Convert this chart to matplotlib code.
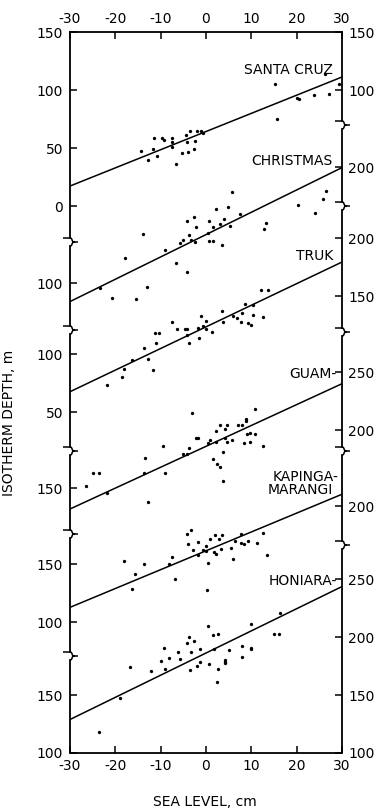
import matplotlib
matplotlib.use("Agg")
import matplotlib.pyplot as plt
from matplotlib.path import Path
from matplotlib.patches import PathPatch

plt.rcParams['font.family'] = ['DejaVu Sans']
plt.rcParams['axes.unicode_minus'] = False

# ---------------- data ----------------
x_ticks = [-30, -20, -10, 0, 10, 20, 30]
x_tick_labels = ["-30", "-20", "-10", "0", "10", "20", "30"]

stations = ["SANTA CRUZ", "CHRISTMAS", "TRUK", "GUAM", "KAPINGA-\nMARANGI", "HONIARA"]

sc_x = [15.2, 26.2, 29.4, 15.6, 20.0, 20.6, 23.8, 27.2, -14.4, -12.7, -11.8, -11.5, -10.7,
        -9.8, -9.3, -7.6, -7.4, -7.6, -6.6, -5.3, -4.5, -4.3, -3.9, -3.5, -2.6, -2.4, -1.9,
        -1.2, -0.6]
sc_y = [105, 113.5, 105, 75, 93, 92, 95.7, 96.3, 47.7, 39.4, 49.1, 58.3, 43.1,
        58.9, 56.9, 58.9, 55.4, 50.6, 36.2, 46.0, 60.9, 55.4, 46.3, 64.9, 48.9, 56.3, 64.4,
        64.4, 63.2]

ch_x = [5.8, 26.4, 25.7, 20.4, 24.0, 13.2, 12.9, 4.9, 7.6, 2.1, 4.0, 3.0, 5.3, 0.7, 1.5,
        0.5, 1.6, 0.7, 3.6, -2.6, -4.3, -2.1, -3.7, -3.2, -2.5, -5.1, -5.7, -9.0, -6.7,
        -4.3, -13.9, -17.8, -13.1, -20.7, -15.4, -23.3]
ch_y = [178.2, 179, 172.7, 167, 160.3, 152, 146.6, 165.8, 159.7, 163.5, 155.2, 150.6,
        148.9, 153.7, 148.3, 142.8, 136.5, 136, 132.5, 157.2, 153.2, 148.3, 141.4, 136.8,
        135.6, 137.1, 134.2, 128.7, 117.2, 109.5, 142, 121.3, 96.6, 87.3, 86, 95.7]

tr_x = [12.1, 13.6, 8.6, 10.4, 3.5, 6.0, 7.9, 6.8, 7.7, 9.3, 9.9, 10.3, 12.5, 3.8, -1.1,
        -0.1, -0.7, -1.7, 0.1, 1.25, -7.4, -6.3, -4.6, -4.1, -4.1, -1.6, -3.7, -11.25,
        -10.4, -11.1, -13.75, -12.7, -16.4, -18.0, -11.8, -18.5, -21.8]
tr_y = [154.9, 154.9, 143.1, 142.5, 137.1, 133, 135.1, 130.8, 127.3, 126.5, 125, 133.6,
        132.2, 127.9, 133, 128.7, 124.4, 122.7, 121.3, 118.7, 127.9, 121.6, 121.9, 121.9,
        116.4, 113.5, 109.2, 117.7, 117.7, 109.2, 105.4, 95.4, 94.8, 87.3, 86, 80, 73]

gu_x = [-3.1, 10.8, 8.8, 8.8, 7.1, 8.0, 3.0, 4.6, 2.1, 4.2, -2.3, -1.7, -9.4, -3.7, -5.0,
        -4.3, -13.4, 0.4, 0.9, 2.1, 4.3, 4.6, 5.7, 8.4, 9.7, 9.1, 9.7, 10.7, 12.5, 3.7, 1.5,
        2.4, 3.1, 3.8, -24.9, -23.5, -26.5, -13.75, -9.0, -12.8, -21.8]
gu_y = [214.7, 218.7, 210.1, 208, 204.3, 204.3, 204.9, 204.9, 199.7, 200.9, 193.4, 193.4,
        186.5, 185.3, 179.9, 179.9, 176.1, 189.3, 191.6, 190.3, 193.7, 189.9, 191.6, 189.3,
        190.3, 197.2, 198, 196.6, 186.5, 181.6, 175, 170.7, 168.7, 156.3, 162.9, 162.9,
        151.7, 163.5, 162.9, 138.5, 146.3]

kp_x = [-3.2, -4.3, -3.9, -1.8, -2.8, 0.9, 2.0, 3.5, 2.8, 7.7, 12.6, 6.4, 7.7, 8.4, 9.2,
        11.2, 3.2, 5.5, -0.6, 0.1, -0.1, 1.8, 2.1, -1.8, 6.0, 13.5, 0.4, -7.5, -8.2, -13.6,
        -18.1, -15.6, -6.8, -16.4, 0.3]
kp_y = [179.3, 176.1, 167.8, 169.6, 162.3, 171.6, 175.6, 175, 171.6, 176.5, 176.7, 169.8,
        168.1, 167.2, 170.1, 168.4, 163.5, 164.4, 162.3, 165.5, 161.5, 160.6, 158.6, 157.8,
        154.3, 158.4, 151.5, 156.6, 150, 150.6, 152.6, 142, 137.3, 129.1, 127.6]

ho_x = [16.3, 9.9, 0.4, 1.5, 2.6, 14.9, 16.1, -3.7, -4.1, -2.6, -9.3, -3.4, -6.1, -1.3,
        1.8, 5.0, 8.0, 9.9, 9.9, -8.2, -10.0, -5.7, -1.3, -1.9, 0.7, 4.3, 4.3, 4.3, 8.0,
        2.6, -3.6, -9.1, -12.2, -16.7, 2.4, -18.9, -23.7]
ho_y = [220.4, 211.2, 209.7, 201.4, 202.6, 202.3, 202.3, 200.3, 194.8, 196.3, 190.2,
        187.4, 186.8, 189.7, 189.7, 188.8, 192.2, 190.8, 189.4, 181.6, 179.6, 181, 178.2,
        175.3, 176.5, 180.2, 178.7, 177.3, 183, 172.2, 171.6, 172.7, 170.7, 174.1, 161.5,
        147.2, 118.4]

line_x = [-30, 30]
sc_line = [17.2, 111.2]
ch_line = [84.0, 199.5]
tr_line = [67.5, 179.3]
gu_line = [132.3, 240.3]
kp_line = [113.0, 210.5]
ho_line = [128.9, 243.6]

left_ticks = [[0, 50, 100, 150], [100], [50, 100], [150], [100, 150], [100, 150]]
right_ticks = [[100, 150], [200], [150, 200], [200, 250], [200], [100, 150, 200, 250]]

xs_all = [sc_x, ch_x, tr_x, gu_x, kp_x, ho_x]
ys_all = [sc_y, ch_y, tr_y, gu_y, kp_y, ho_y]
lines_all = [sc_line, ch_line, tr_line, gu_line, kp_line, ho_line]

# ---------------- layout ----------------
W, H = 375, 808
L, R, T, B = 70, 342, 32, 753
PX_PER_M = 1.16
span = (B - T) / PX_PER_M
tops = [150, 316.4, 377.6, 543.5, 609.0, 722.0]   # value at the top edge of plot area per station
left_seg = [(32, 242), (242, 330), (330, 451), (451, 534), (534, 656), (656, 753)]
right_seg = [(32, 125), (125, 206), (206, 332), (332, 451), (451, 545), (545, 753)]
GAP = 4
LW = 1.1
FS = 10

fig = plt.figure(figsize=(W / 100, H / 100), dpi=100)
rect = [L / W, 1 - B / H, (R - L) / W, (B - T) / H]

frame = fig.add_axes(rect, facecolor='none')
frame.set_xlim(-30, 30)
frame.set_ylim(0, 1)
frame.set_yticks([])
for s in ('left', 'right'):
    frame.spines[s].set_visible(False)
for s in ('top', 'bottom'):
    frame.spines[s].set_linewidth(1.3)
frame.set_xticks(x_ticks)
frame.set_xticklabels(x_tick_labels)
frame.tick_params(axis='x', direction='in', length=5, width=LW, top=True, bottom=True,
                  labeltop=True, labelbottom=True, labelsize=FS, pad=4)


def px2v(top_v, px):
    return top_v - (px - T) / PX_PER_M


for i in range(6):
    tv = tops[i]
    ax = fig.add_axes(rect, facecolor='none')
    ax.set_xlim(-30, 30)
    ax.set_ylim(tv - span, tv)
    ax.plot(line_x, lines_all[i], color='black', lw=LW, solid_capstyle='butt', zorder=2)
    ax.plot(xs_all[i], ys_all[i], 'o', ms=2.4, mew=0, color='black', zorder=3)
    ax.set_xticks([])
    for s in ('top', 'bottom', 'right'):
        ax.spines[s].set_visible(False)
    up, lo = left_seg[i]
    up2 = up + (GAP if up != T else 0)
    lo2 = lo - (GAP if lo != B else 0)
    ax.spines['left'].set_bounds(px2v(tv, lo2), px2v(tv, up2))
    ax.spines['left'].set_linewidth(1.3)
    ax.set_yticks(left_ticks[i])
    ax.set_yticklabels([str(v) for v in left_ticks[i]])
    ax.tick_params(axis='y', direction='in', length=5, width=LW, labelsize=FS, pad=5)

    tw = ax.twinx()
    tw.set_ylim(tv - span, tv)
    for s in ('top', 'bottom', 'left'):
        tw.spines[s].set_visible(False)
    up, lo = right_seg[i]
    up2 = up + (GAP if up != T else 0)
    lo2 = lo - (GAP if lo != B else 0)
    tw.spines['right'].set_bounds(px2v(tv, lo2), px2v(tv, up2))
    tw.spines['right'].set_linewidth(1.3)
    tw.set_yticks(right_ticks[i])
    tw.set_yticklabels([str(v) for v in right_ticks[i]])
    tw.tick_params(axis='y', direction='in', length=5, width=LW, labelsize=FS, pad=4.5)

# overlay in pixel coordinates for axis breaks and labels
ov = fig.add_axes([0, 0, 1, 1], facecolor='none')
ov.set_xlim(0, W)
ov.set_ylim(H, 0)
ov.axis('off')


def brace(x0, yb):
    verts = [(x0 - 7, yb - GAP), (x0, yb - GAP),
             (x0 + 3, yb - GAP), (x0 + 1, yb), (x0 + 4.5, yb),
             (x0 + 1, yb), (x0 + 3, yb + GAP), (x0, yb + GAP),
             (x0 + 4.5, yb), (x0 + 8, yb)]
    codes = [Path.MOVETO, Path.LINETO,
             Path.CURVE4, Path.CURVE4, Path.CURVE4,
             Path.CURVE4, Path.CURVE4, Path.CURVE4,
             Path.MOVETO, Path.LINETO]
    ov.add_patch(PathPatch(Path(verts, codes), facecolor='none', edgecolor='black', lw=1.1))


for (up, lo) in left_seg[1:]:
    brace(L, up)
for (up, lo) in right_seg[1:]:
    brace(R, up)

label_pos = [(333, 74, "SANTA CRUZ"), (333, 165, "CHRISTMAS"), (333, 260, "TRUK"),
             (337, 378, "GUAM-"), (338, 481, "KAPINGA-"), (333, 494, "MARANGI"),
             (337, 585, "HONIARA-")]
for x, y, s in label_pos:
    ov.text(x, y, s, ha='right', va='baseline', fontsize=FS)

ov.text(9, 423, "ISOTHERM DEPTH, m", rotation=90, ha='center', va='center', fontsize=FS)
ov.text(205, 802, "SEA LEVEL, cm", ha='center', va='center', fontsize=FS)

fig.savefig("out.png", dpi=100)
